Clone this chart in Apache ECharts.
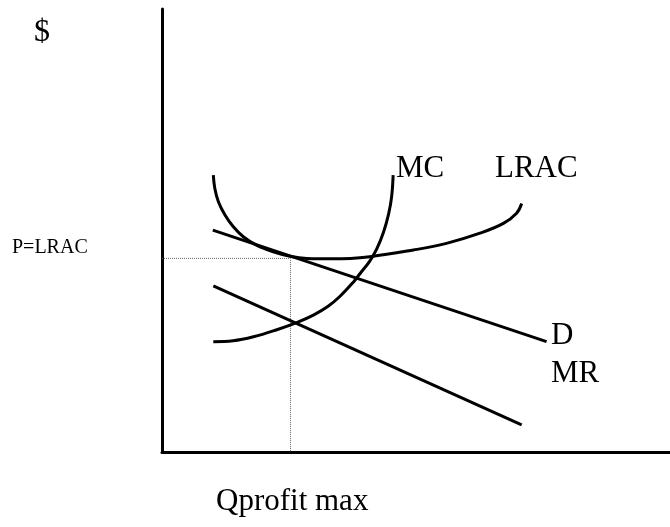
<!DOCTYPE html>
<html>
<head>
<meta charset="utf-8">
<script src="https://cdn.jsdelivr.net/npm/echarts@6/dist/echarts.min.js"></script>
<style>
  html, body { margin: 0; padding: 0; background: #fff; }
  #main { width: 670px; height: 527px; }
</style>
</head>
<body>
<div id="main"></div>
<script>
// curve points (axis units 0-100)
var mcPoints = [
  [10.1, 24.9], [14.0, 25.1], [18.0, 26.0], [22.6, 27.6], [26.5, 29.2],
  [29.8, 30.9], [32.7, 32.9], [35.0, 35.1], [37.7, 38.4], [39.0, 40.3],
  [40.9, 43.1], [42.3, 45.9], [43.6, 49.6], [44.6, 53.7], [45.2, 57.6],
  [45.5, 62.5]
];
var lracPoints = [
  [10.1, 62.5], [10.4, 59.5], [11.1, 56.5], [12.4, 53.5], [14.0, 50.9],
  [16.0, 48.6], [18.6, 46.7], [21.9, 45.2], [25.2, 44.2], [28.5, 43.7],
  [33.7, 43.6], [40.9, 44.1], [49.5, 45.6], [56.0, 47.1], [62.6, 49.4],
  [67.2, 51.6], [69.8, 53.9], [70.8, 56.1]
];
var demandPoints = [[10.0, 50.1], [75.7, 24.9]];
var mrPoints = [[10.1, 37.5], [70.8, 6.1]];
var qProfitMax = 25.3;
var priceLevel = 43.7;
var guidePoints = [[0, priceLevel], [qProfitMax, priceLevel], [qProfitMax, 0]];

var chart = echarts.init(document.getElementById('main'));

var serif = 'Liberation Serif, Times New Roman, serif';
function label (text, x, y, size) {
  return {
    type: 'text',
    x: x,
    y: y,
    style: {
      text: text,
      font: size + 'px ' + serif,
      fill: '#000',
      textAlign: 'left',
      textVerticalAlign: 'middle'
    }
  };
}

function curve (data, smooth) {
  return {
    type: 'line',
    data: data,
    smooth: smooth,
    symbol: 'none',
    lineStyle: { color: '#000', width: 3 },
    animation: false
  };
}

var option = {
  backgroundColor: '#fff',
  grid: { left: 162, right: 0, top: 9, bottom: 75 },
  xAxis: {
    type: 'value', min: 0, max: 100,
    axisLine: { show: true, lineStyle: { color: '#000', width: 3 } },
    axisTick: { show: false },
    axisLabel: { show: false },
    splitLine: { show: false }
  },
  yAxis: {
    type: 'value', min: 0, max: 100,
    axisLine: { show: true, lineStyle: { color: '#000', width: 3 } },
    axisTick: { show: false },
    axisLabel: { show: false },
    splitLine: { show: false }
  },
  series: [
    {
      type: 'line',
      data: guidePoints,
      symbol: 'none',
      lineStyle: { color: '#666', width: 1, type: 'dotted' },
      animation: false
    },
    curve(mcPoints, 0.4),
    curve(lracPoints, 0.4),
    curve(demandPoints, false),
    curve(mrPoints, false)
  ],
  graphic: [
    label('$', 34, 33, 32),
    label('P=LRAC', 12, 248, 20),
    label('MC', 396, 169, 31),
    label('LRAC', 495, 169, 31),
    label('D', 551, 336, 31),
    label('MR', 551, 374, 31),
    label('Qprofit max', 216, 502, 31)
  ]
};

chart.setOption(option);
</script>
</body>
</html>
